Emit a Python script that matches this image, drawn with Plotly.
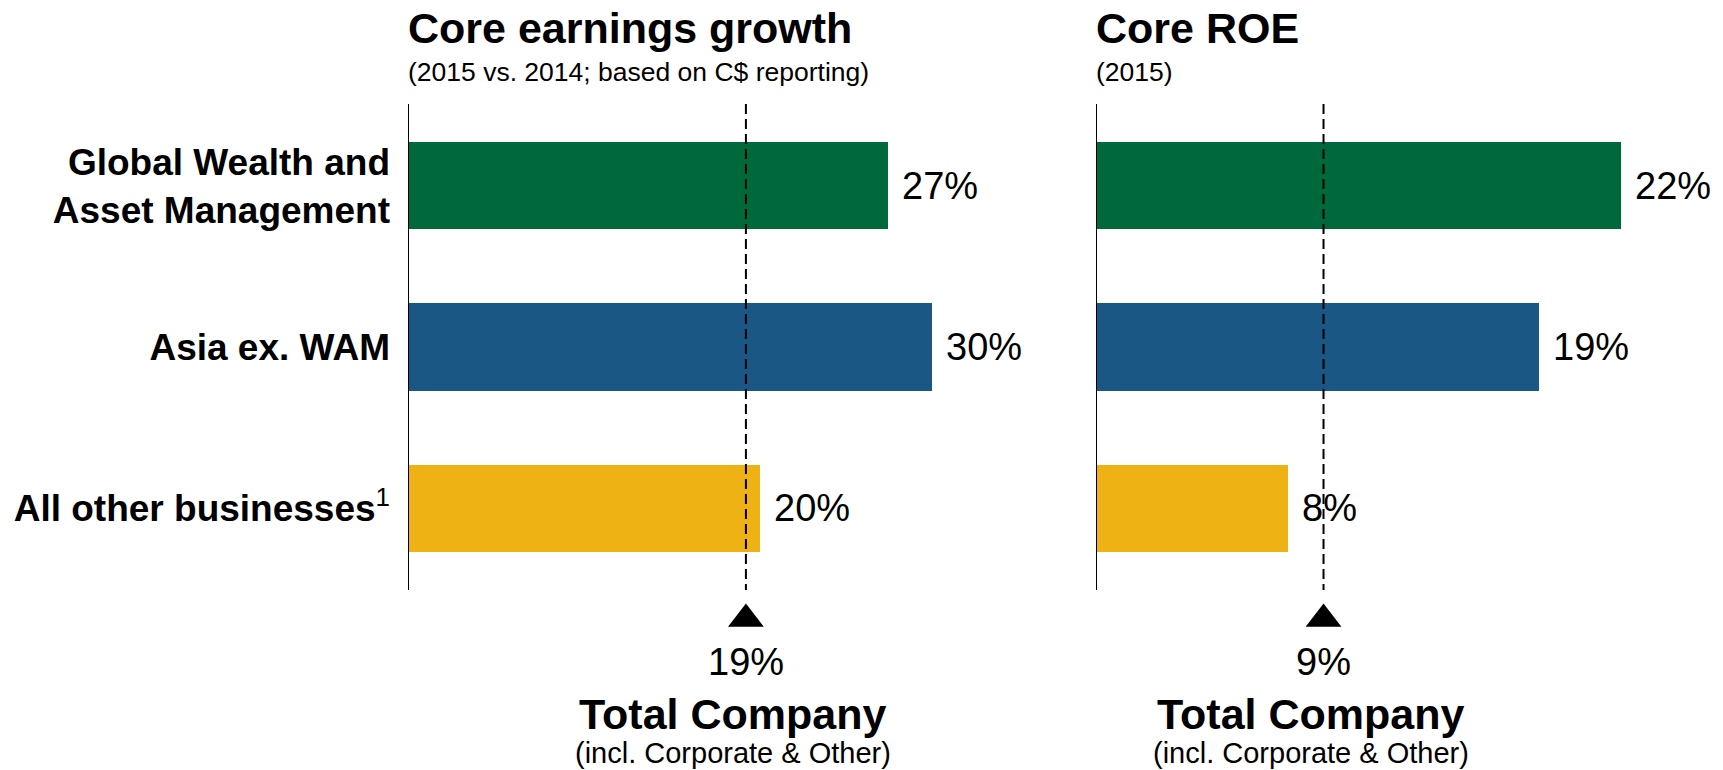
import plotly.graph_objects as go

# ---------------- data ----------------
categories = ["Global Wealth and<br>Asset Management", "Asia ex. WAM",
              "All other businesses<sup><span style='font-weight:normal'>1</span></sup>"]
bar_colors = ["#00693C", "#1A5785", "#EEB215"]

growth_values = [27.3, 29.8, 20.0]
growth_labels = ["27%", "30%", "20%"]
growth_total = 19.2
growth_total_label = "19%"

roe_values = [21.9, 18.5, 8.0]
roe_labels = ["22%", "19%", "8%"]
roe_total = 9.5
roe_total_label = "9%"

panel_titles = ["Core earnings growth", "Core ROE"]
panel_subtitles = ["(2015 vs. 2014; based on C$ reporting)", "(2015)"]
total_title = "Total Company"
total_subtitle = "(incl. Corporate & Other)"

# ---------------- layout constants ----------------
W, H = 1723, 770
FONT = "Liberation Sans, Arial, Helvetica, sans-serif"


def py(px):
    return 1 - px / H


positions = list(range(len(categories)))
Y_TOP, Y_BOT, Y_EXT = 104, 590, 645          # axis line top/bottom, extended domain bottom
LINE_LO, LINE_HI = -0.507, 2.507              # data span of axis line / dashed line
UNIT = (Y_BOT - Y_TOP) / (LINE_HI - LINE_LO)  # px per category
Y_RANGE = [LINE_HI + (Y_EXT - Y_BOT) / UNIT, LINE_LO]
TRI_Y = LINE_HI + (619 - Y_BOT) / UNIT

panels = [
    dict(xa="x", ya="y", values=growth_values, labels=growth_labels, total=growth_total,
         total_label=growth_total_label, title=panel_titles[0], subtitle=panel_subtitles[0]),
    dict(xa="x2", ya="y2", values=roe_values, labels=roe_labels, total=roe_total,
         total_label=roe_total_label, title=panel_titles[1], subtitle=panel_subtitles[1]),
]

fig = go.Figure()
annotations = []
shapes = []

for p in panels:
    xa, ya = p["xa"], p["ya"]
    fig.add_trace(go.Bar(
        x=p["values"], y=positions, orientation="h",
        marker=dict(color=bar_colors, line=dict(width=0)),
        width=0.542, xaxis=xa, yaxis=ya, showlegend=False, hoverinfo="skip",
    ))
    fig.add_trace(go.Scatter(
        x=[p["total"]], y=[TRI_Y], mode="markers",
        marker=dict(symbol="triangle-up", size=31, color="black", line=dict(width=0)),
        xaxis=xa, yaxis=ya, showlegend=False, hoverinfo="skip",
    ))
    # vertical axis line at zero
    shapes.append(dict(
        type="line", xref=xa, yref=ya, x0=0, x1=0, y0=LINE_LO, y1=LINE_HI,
        line=dict(color="black", width=2), layer="above",
    ))
    # dashed total-company reference line
    shapes.append(dict(
        type="line", xref=xa, yref=ya, x0=p["total"], x1=p["total"], y0=LINE_LO, y1=LINE_HI,
        line=dict(color="black", width=2, dash="10px,5px"), layer="above",
    ))
    for i, (v, lab) in zip(positions, zip(p["values"], p["labels"])):
        annotations.append(dict(
            xref=xa, yref=ya, x=v, y=i, text=lab, showarrow=False,
            xanchor="left", yanchor="middle", xshift=12,
            font=dict(family=FONT, size=38, color="black"),
        ))
    annotations.append(dict(
        xref=xa, yref="paper", x=p["total"], y=py(662), text=p["total_label"], showarrow=False,
        xanchor="center", yanchor="middle", font=dict(family=FONT, size=38, color="black"),
    ))
    annotations.append(dict(
        xref=xa, yref="paper", x=p["total"], y=py(714), text=total_title, showarrow=False,
        xanchor="center", yanchor="middle", xshift=-13,
        font=dict(family=FONT, size=43, color="black", weight="bold"),
    ))
    annotations.append(dict(
        xref=xa, yref="paper", x=p["total"], y=py(753), text=total_subtitle, showarrow=False,
        xanchor="center", yanchor="middle", xshift=-13,
        font=dict(family=FONT, size=29, color="black"),
    ))
    annotations.append(dict(
        xref=xa, yref="paper", x=0, y=py(28), text=p["title"], showarrow=False,
        xanchor="left", yanchor="middle", xshift=-2,
        font=dict(family=FONT, size=43, color="black", weight="bold"),
    ))
    annotations.append(dict(
        xref=xa, yref="paper", x=0, y=py(72), text=p["subtitle"], showarrow=False,
        xanchor="left", yanchor="middle", xshift=-2,
        font=dict(family=FONT, size=26.5, color="black"),
    ))

left_px, left_scale, left_max = 408, 17.6, 34
right_px, right_scale, right_max = 1096, 23.95, 25

common_x = dict(showgrid=False, zeroline=False, showline=False, showticklabels=False, ticks="")
common_y = dict(showgrid=False, zeroline=False, showline=False,
                ticks="", range=Y_RANGE, automargin=False,
                tickvals=positions, ticktext=categories,
                domain=[py(Y_EXT), py(Y_TOP)])

fig.update_layout(
    width=W, height=H,
    margin=dict(l=0, r=0, t=0, b=0),
    paper_bgcolor="white", plot_bgcolor="white",
    font=dict(family=FONT, color="black"),
    xaxis=dict(**common_x, range=[0, left_max], anchor="y",
               domain=[left_px / W, (left_px + left_max * left_scale) / W]),
    yaxis=dict(**common_y, anchor="x", showticklabels=True, ticklabelstandoff=17,
               tickfont=dict(family=FONT, size=37, color="black", weight="bold")),
    xaxis2=dict(**common_x, range=[0, right_max], anchor="y2",
                domain=[right_px / W, (right_px + right_max * right_scale) / W]),
    yaxis2=dict(**common_y, anchor="x2", showticklabels=False),
    annotations=annotations,
    shapes=shapes,
    bargap=0,
)

fig.write_html("out.html", config={"displayModeBar": False},
               post_script="document.body.style.margin='0';")
